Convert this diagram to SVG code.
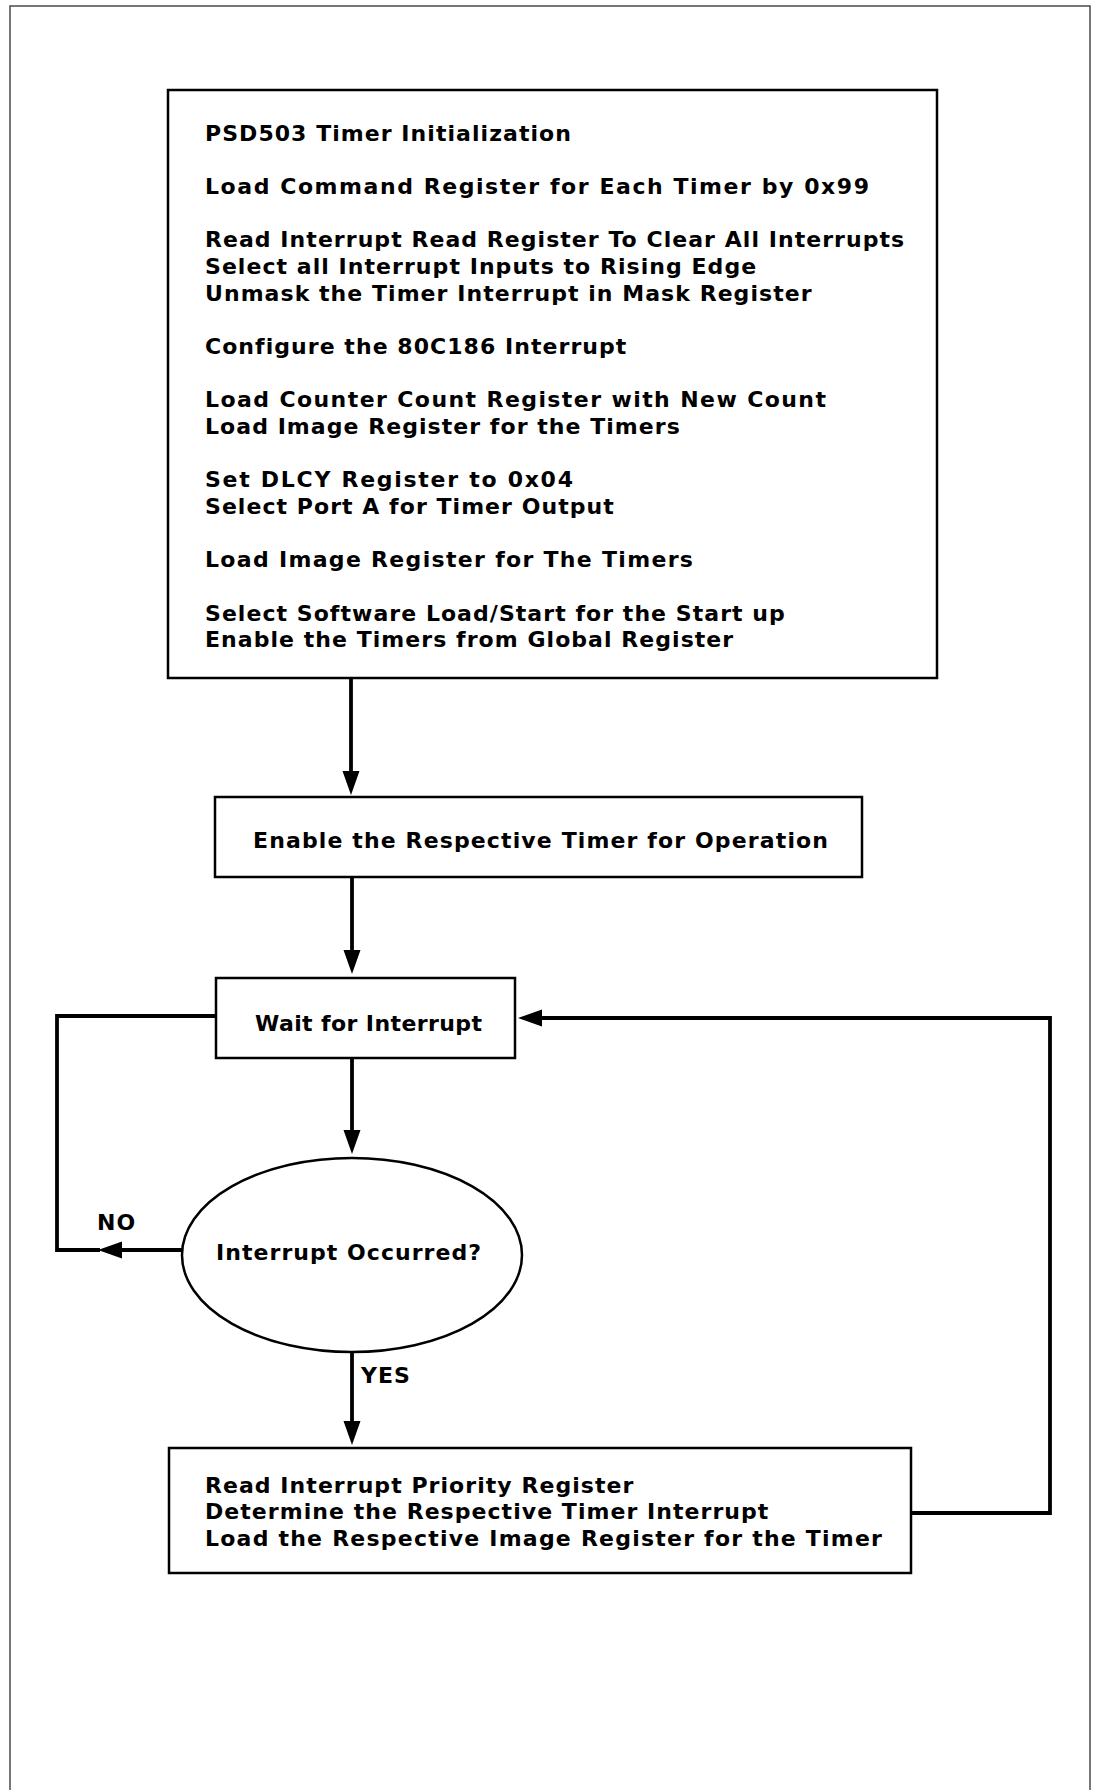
<svg xmlns="http://www.w3.org/2000/svg" width="1099" height="1790" viewBox="0 0 1099 1790">
<style>
.t{font-family:"DejaVu Sans","Liberation Sans",Arial,sans-serif;font-size:22px;font-weight:bold;letter-spacing:1.05px;fill:#000}
.box{fill:#fff;stroke:#000;stroke-width:2.5}
.c{fill:none;stroke:#000;stroke-width:3.8;stroke-linejoin:miter}
</style>
<defs>
<marker id="ah" markerUnits="userSpaceOnUse" markerWidth="26" markerHeight="18" refX="14" refY="9" orient="auto">
<path d="M0,0.5 L24,9 L0,17.5 Z" fill="#000"/>
</marker>
</defs>
<rect x="0" y="0" width="1099" height="1790" fill="#fff"/>
<rect id="frame" x="10" y="6" width="1080" height="1800" fill="none" stroke="#555" stroke-width="1.6"/>

<g id="connectors">
<path class="c" d="M351,679 L351,785" marker-end="url(#ah)"/>
<path class="c" d="M352,877 L352,964" marker-end="url(#ah)"/>
<path class="c" d="M352,1058 L352,1144" marker-end="url(#ah)"/>
<path class="c" d="M182,1250 L108,1250" marker-end="url(#ah)"/>
<path class="c" d="M100,1250 L57,1250 L57,1016 L216,1016"/>
<path class="c" d="M352,1352 L352,1435" marker-end="url(#ah)"/>
<path class="c" d="M911,1513 L1050,1513 L1050,1018 L528,1018" marker-end="url(#ah)"/>
</g>

<g id="init">
<rect class="box" x="168" y="90" width="769" height="588"/>
<text class="t" x="205" y="140.7">PSD503 Timer Initialization</text>
<text class="t" x="205" y="194" textLength="665" lengthAdjust="spacing">Load Command Register for Each Timer by 0x99</text>
<text class="t" x="205" y="247.4">Read Interrupt Read Register To Clear All Interrupts</text>
<text class="t" x="205" y="274">Select all Interrupt Inputs to Rising Edge</text>
<text class="t" x="205" y="300.7">Unmask the Timer Interrupt in Mask Register</text>
<text class="t" x="205" y="354">Configure the 80C186 Interrupt</text>
<text class="t" x="205" y="407.4" textLength="622" lengthAdjust="spacing">Load Counter Count Register with New Count</text>
<text class="t" x="205" y="434">Load Image Register for the Timers</text>
<text class="t" x="205" y="487.4" textLength="369" lengthAdjust="spacing">Set DLCY Register to 0x04</text>
<text class="t" x="205" y="514">Select Port A for Timer Output</text>
<text class="t" x="205" y="567.4" textLength="489" lengthAdjust="spacing">Load Image Register for The Timers</text>
<text class="t" x="205" y="620.7">Select Software Load/Start for the Start up</text>
<text class="t" x="205" y="647.4">Enable the Timers from Global Register</text>
</g>

<g id="enable">
<rect class="box" x="215" y="797" width="647" height="80"/>
<text class="t" x="253" y="848" textLength="576" lengthAdjust="spacing">Enable the Respective Timer for Operation</text>
</g>

<g id="wait">
<rect class="box" x="216" y="978" width="299" height="80"/>
<text class="t" x="255" y="1031" textLength="228" lengthAdjust="spacing">Wait for Interrupt</text>
</g>

<g id="decision">
<ellipse class="box" cx="352" cy="1255" rx="170" ry="97"/>
<text class="t" x="216" y="1260">Interrupt Occurred?</text>
</g>

<g id="labels">
<text class="t" x="97" y="1230">NO</text>
<text class="t" x="361" y="1383">YES</text>
</g>

<g id="service">
<rect class="box" x="169" y="1448" width="742" height="125"/>
<text class="t" x="205" y="1492.7">Read Interrupt Priority Register</text>
<text class="t" x="205" y="1519.3">Determine the Respective Timer Interrupt</text>
<text class="t" x="205" y="1546" textLength="678" lengthAdjust="spacing">Load the Respective Image Register for the Timer</text>
</g>
</svg>
